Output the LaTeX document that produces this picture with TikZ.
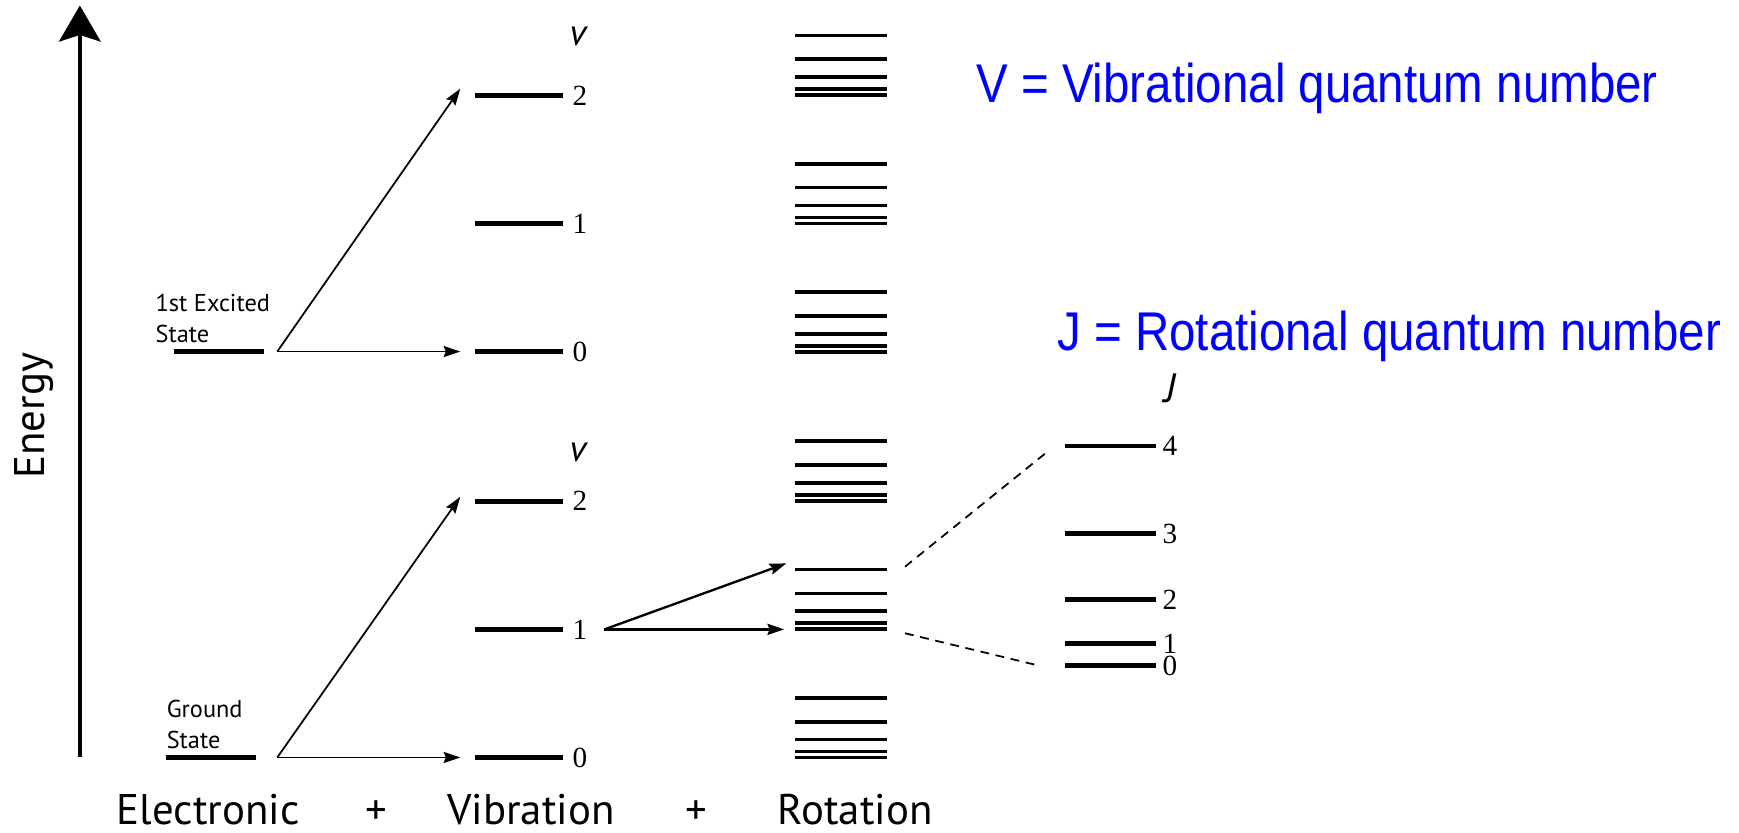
\documentclass[tikz,border=0pt]{standalone}
\usepackage{fontspec}
\setmainfont{PT Sans}
\newfontfamily\numfont{Liberation Serif}
\newfontfamily\bluefont[FakeStretch=0.87]{Liberation Sans}
\usetikzlibrary{arrows.meta}

\begin{document}
\begin{tikzpicture}[x=2cm,y=2cm,
    stateline/.style={line width=2.3pt},
    rotline/.style={line width=2pt},
    thinarrow/.style={line width=0.9pt,-{Stealth[length=3mm,width=2mm,inset=0.4mm]}},
    dashline/.style={line width=0.9pt,dash pattern=on 1.6mm off 1.2mm},
    smalltxt/.style={inner sep=0,font=\fontsize{12.5}{14}\selectfont},
    numtxt/.style={inner sep=0,font=\numfont\fontsize{15}{18}\selectfont},
    qlabel/.style={inner sep=0,font=\itshape\fontsize{19}{22}\selectfont},
    bluetxt/.style={inner sep=0,blue,font=\bluefont\fontsize{28}{32}\selectfont},
    axistxt/.style={inner sep=0,font=\fontsize{22}{26}\selectfont}]
  \useasboundingbox (0,0) rectangle (15.68,7.51);

  % Energy axis
  \coordinate (ebot) at (0.72,0.68);
  \coordinate (etop) at (0.72,7.46);
  \draw[line width=2pt,-{Stealth[length=6.5mm,width=7.5mm,inset=1.2mm]}] (ebot) -- (etop);
  \node[axistxt,rotate=90,anchor=base] (energy) at (0.40,3.76) {Energy};

  % Electronic states
  \draw[stateline] (1.57,4.34) -- (2.38,4.34);  % 1st excited
  \draw[stateline] (1.50,0.68) -- (2.31,0.68);  % ground
  \node[smalltxt,anchor=base west] (ex1) at (1.40,4.70) {1st Excited};
  \node[smalltxt,anchor=base west] (ex2) at (1.40,4.42) {State};
  \node[smalltxt,anchor=base west] (gr1) at (1.50,1.04) {Ground};
  \node[smalltxt,anchor=base west] (gr2) at (1.50,0.76) {State};

  % Vibrational levels v = 0,1,2 on both states
  \foreach \base in {0.68,4.34} {
    \foreach \v in {0,1,2} {
      \draw[stateline] (4.28,{\base+1.155*\v}) -- (5.08,{\base+1.155*\v});
      \node[numtxt,anchor=west] at (5.16,{\base+1.155*\v}) {\v};
    }
  }
  \node[qlabel] (vup) at (5.21,7.18) {v};
  \node[qlabel] (vlow) at (5.21,3.43) {v};

  % Rotational levels on every vibrational level
  \foreach \base in {0.68,1.835,2.99,4.34,5.495,6.65}
    \foreach \j in {0,...,4}
      \draw[rotline] (7.17,{\base+0.027*\j*(\j+1)}) -- (8.00,{\base+0.027*\j*(\j+1)});

  % Arrows electronic -> vibration
  \coordinate (ex) at (2.50,4.34);
  \coordinate (exv0) at (4.15,4.34);
  \coordinate (exv2) at (4.15,6.71);
  \coordinate (gr) at (2.50,0.68);
  \coordinate (grv0) at (4.15,0.68);
  \coordinate (grv2) at (4.15,3.03);
  \draw[thinarrow] (ex) -- (exv0);
  \draw[thinarrow] (ex) -- (exv2);
  \draw[thinarrow] (gr) -- (grv0);
  \draw[thinarrow] (gr) -- (grv2);

  % Arrows vibration -> rotation
  \coordinate (v1) at (5.45,1.835);
  \coordinate (rotlo) at (7.07,1.835);
  \coordinate (rothi) at (7.09,2.43);
  \draw[thinarrow,line width=1.2pt] (v1) -- (rothi);
  \draw[thinarrow,line width=1.2pt] (v1) -- (rotlo);

  % Zoom on one group
  \coordinate (zhi) at (8.16,2.40);
  \coordinate (zlo) at (8.16,1.80);
  \coordinate (jhi) at (9.46,3.45);
  \coordinate (jlo) at (9.36,1.51);
  \draw[dashline] (zhi) -- (jhi);
  \draw[dashline] (zlo) -- (jlo);

  % Rotational levels J = 0..4
  \foreach \j in {0,...,4} {
    \draw[stateline] (9.60,{1.51+0.099*\j*(\j+1)}) -- (10.42,{1.51+0.099*\j*(\j+1)});
    \node[numtxt,anchor=west] at (10.48,{1.51+0.099*\j*(\j+1)}) {\j};
  }
  \node[qlabel,font=\itshape\fontsize{21}{24}\selectfont] (jtop) at (10.55,4.01) {J};

  % Legends
  \node[bluetxt,anchor=base west] (vdef) at (8.80,6.59) {V = Vibrational quantum number};
  \node[bluetxt,anchor=base west] (jdef) at (9.53,4.35) {J = Rotational quantum number};

  % Bottom labels
  \node[axistxt,anchor=base west] (elec) at (1.05,0.08) {Electronic};
  \node[axistxt,anchor=base] (plus1) at (3.39,0.08) {+};
  \node[axistxt,anchor=base west] (vib) at (4.03,0.08) {Vibration};
  \node[axistxt,anchor=base] (plus2) at (6.28,0.08) {+};
  \node[axistxt,anchor=base west] (rot) at (7.01,0.08) {Rotation};
\end{tikzpicture}
\end{document}
